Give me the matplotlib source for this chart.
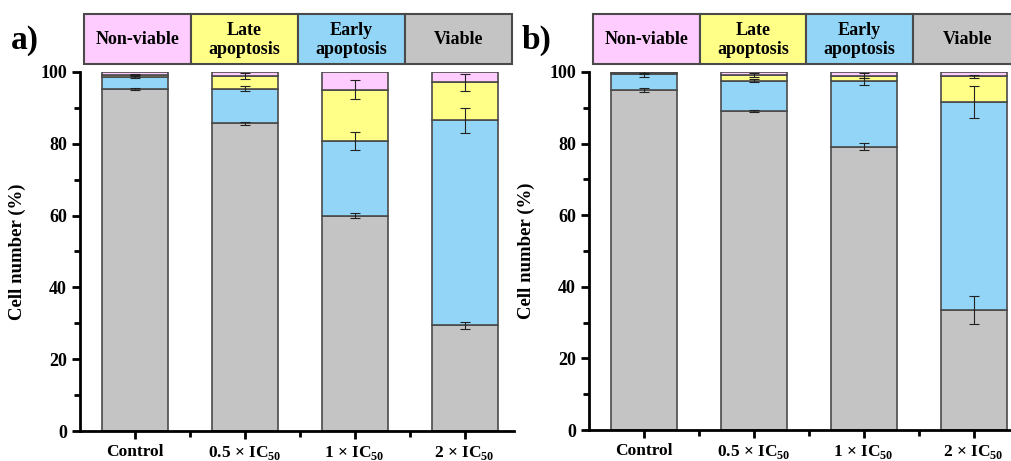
import matplotlib
matplotlib.use("Agg")
import matplotlib.pyplot as plt
from matplotlib.patches import Rectangle
from matplotlib.ticker import MultipleLocator, FixedLocator
import numpy as np

plt.rcParams['font.family'] = ['Liberation Serif', 'DejaVu Serif']
plt.rcParams['font.weight'] = 'bold'
plt.rcParams['mathtext.fontset'] = 'custom'
plt.rcParams['mathtext.rm'] = 'Liberation Serif:bold'
plt.rcParams['mathtext.bf'] = 'Liberation Serif:bold'

categories = ['Control', r'0.5 × IC$_{\mathbf{50}}$', r'1 × IC$_{\mathbf{50}}$', r'2 × IC$_{\mathbf{50}}$']
legend_labels = ['Non-viable', 'Late\napoptosis', 'Early\napoptosis', 'Viable']

# Panel a
a_viable = [95.3, 85.7, 60.0, 29.5]
a_early = [3.4, 9.7, 20.8, 57.0]
a_late = [0.4, 3.5, 14.3, 10.6]
a_nonviable = [0.9, 1.1, 4.9, 2.9]
a_viable_err = [0.3, 0.5, 0.8, 1.0]
a_early_err = [0.4, 0.8, 2.4, 3.5]
a_late_err = [0.3, 0.8, 2.7, 2.4]

# Panel b
b_viable = [95.0, 89.1, 79.1, 33.5]
b_early = [4.5, 8.5, 18.3, 58.2]
b_late = [0.1, 1.6, 1.6, 7.1]
b_nonviable = [0.4, 0.8, 1.0, 1.2]
b_viable_err = [0.6, 0.2, 1.0, 3.8]
b_early_err = [0.9, 0.5, 1.0, 4.5]
b_late_err = [0.2, 0.5, 0.6, 0.4]

c_viable = '#c4c4c4'
c_early = '#93d5f6'
c_late = '#ffff88'
c_non = '#ffccff'
header_colors = [c_non, c_late, c_early, c_viable]
edge = '#4a4a4a'

W, H = 1012, 461
fig = plt.figure(figsize=(W / 100, H / 100), dpi=100)

def px_axes(l, r, t, b):
    return fig.add_axes([l / W, 1 - b / H, (r - l) / W, (b - t) / H])

def draw_panel(ax, viable, early, late, non, ve, ee, le, xmax):
    x = np.arange(1, len(categories) + 1)
    w = 0.6
    b0 = np.zeros(len(x))
    for vals, col in [(viable, c_viable), (early, c_early), (late, c_late), (non, c_non)]:
        ax.bar(x, vals, w, bottom=b0, color=col, edgecolor=edge, linewidth=1.2, zorder=2)
        b0 = b0 + np.array(vals)
    v = np.array(viable)
    e = v + np.array(early)
    l = e + np.array(late)
    for tops, errs in [(v, ve), (e, ee), (l, le)]:
        ax.errorbar(x, tops, yerr=errs, fmt='none', ecolor='#222222', elinewidth=0.8,
                    capsize=3.5, capthick=0.8, zorder=3)
    ax.set_xlim(0.5, xmax)
    ax.set_ylim(0, 100)
    ax.set_xticks(x)
    ax.set_xticklabels(categories, fontsize=12.5, fontweight='bold')
    ax.xaxis.set_minor_locator(FixedLocator(x[:-1] + 0.5))
    ax.yaxis.set_major_locator(MultipleLocator(20))
    ax.yaxis.set_minor_locator(MultipleLocator(10))
    for s in ['top', 'right']:
        ax.spines[s].set_visible(False)
    for s in ['left', 'bottom']:
        ax.spines[s].set_linewidth(2)
    ax.tick_params(axis='both', which='major', direction='out', length=6, width=2)
    ax.tick_params(axis='y', which='major', labelsize=13)
    ax.tick_params(axis='both', which='minor', direction='out', length=4, width=2)
    ax.tick_params(axis='x', pad=3)
    for t in ax.get_yticklabels():
        t.set_fontweight('bold')
    ax.set_ylabel('Cell number (%)', fontsize=13.5, fontweight='bold', labelpad=10)

axa = px_axes(80, 514, 72, 431)
draw_panel(axa, a_viable, a_early, a_late, a_nonviable, a_viable_err, a_early_err, a_late_err, 4.45)
axb = px_axes(589, 1012, 72, 430)
draw_panel(axb, b_viable, b_early, b_late, b_nonviable, b_viable_err, b_early_err, b_late_err, 4.35)

def header(x0, widths):
    xs = x0
    for lab, col, wd in zip(legend_labels, header_colors, widths):
        fig.add_artist(Rectangle((xs / W, 1 - 64 / H), wd / W, 50 / H, transform=fig.transFigure,
                                 facecolor=col, edgecolor=edge, linewidth=1.5))
        fig.text((xs + wd / 2) / W, 1 - 40 / H, lab, ha='center', va='center', fontsize=13,
                 fontweight='bold', linespacing=1.15)
        xs += wd

header(84, [107, 107, 107, 107])
header(593, [107, 106, 107, 110])

fig.text(25 / W, 1 - 40 / H, 'a)', fontsize=24, fontweight='bold', ha='center', va='center')
fig.text(537 / W, 1 - 40 / H, 'b)', fontsize=24, fontweight='bold', ha='center', va='center')

fig.savefig('out.png', dpi=100)
